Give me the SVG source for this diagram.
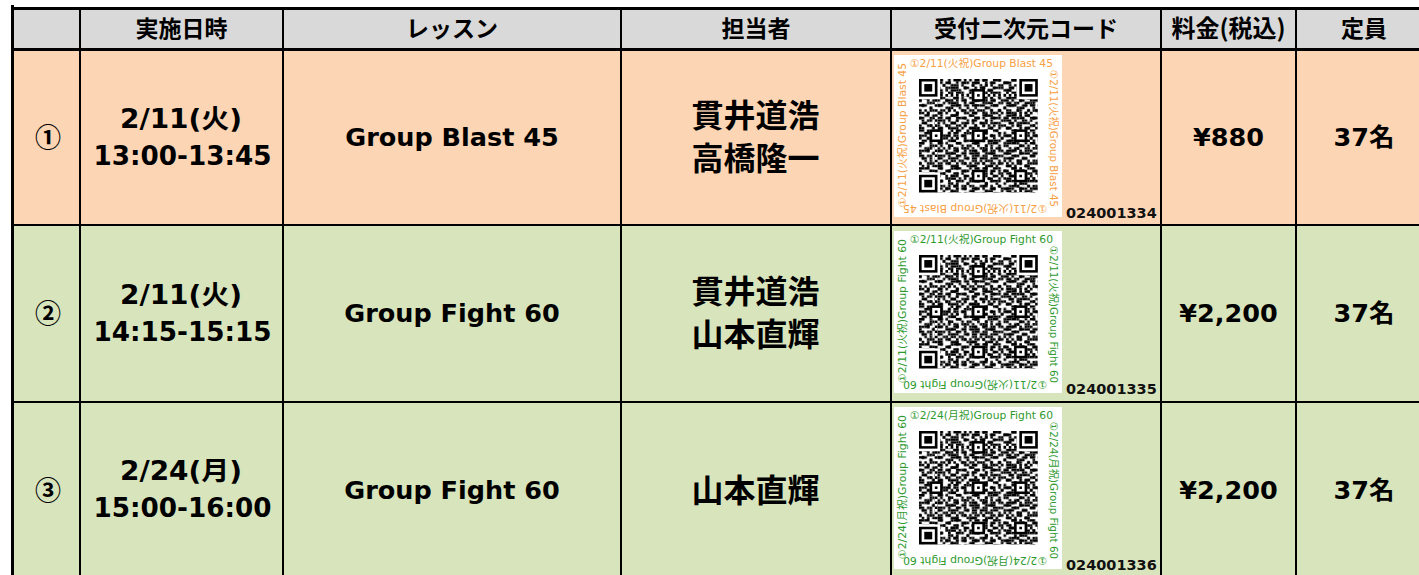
<svg xmlns="http://www.w3.org/2000/svg" xmlns:xlink="http://www.w3.org/1999/xlink" width="1419" height="575" viewBox="0 0 1419 575">
<style>
.hd{font-family:"Noto Sans CJK JP",sans-serif;font-weight:bold;font-size:23px;fill:#000;text-anchor:middle}
.lt{font-family:"DejaVu Sans","Noto Sans CJK JP",sans-serif;font-weight:bold;font-size:25.5px;fill:#000;text-anchor:middle}
.tm{font-size:26.5px}
.jp{font-family:"Noto Sans CJK JP",sans-serif;font-weight:bold;font-size:32px;fill:#000;text-anchor:middle}
.cn{font-family:"Noto Sans CJK JP",sans-serif;font-weight:bold;font-size:26px;fill:#000;text-anchor:middle}
.qo{font-family:"DejaVu Sans","Noto Sans CJK JP",sans-serif;font-size:10.5px;fill:#f7a043}
.qg{font-family:"DejaVu Sans","Noto Sans CJK JP",sans-serif;font-size:10.5px;fill:#2f9a2f}
.num{font-family:"DejaVu Sans",sans-serif;font-weight:bold;font-size:14.5px;fill:#111}
.gl{stroke:#000;fill:none}
</style>
<defs>
<pattern id="pa" patternUnits="userSpaceOnUse" width="7" height="5"><path d="M0 0h2v1h-2z M4 1h1v1h-1z M2 2h1v1h-1z M6 2h1v1h-1z M0 3h1v1h-1z M3 3h1v1h-1z M5 4h2v1h-2z" fill="#000"/></pattern>
<pattern id="pb" patternUnits="userSpaceOnUse" width="11" height="7"><path d="M2 0h2v1h-2z M8 0h1v1h-1z M0 1h1v1h-1z M5 1h2v1h-2z M10 1h1v1h-1z M3 2h1v1h-1z M9 2h1v1h-1z M1 3h2v1h-2z M6 3h2v1h-2z M4 4h1v1h-1z M10 4h1v1h-1z M0 5h1v1h-1z M5 5h1v1h-1z M8 5h1v1h-1z M3 6h1v1h-1z M7 6h1v1h-1z" fill="#000"/></pattern>
<pattern id="pc" patternUnits="userSpaceOnUse" width="13" height="3"><path d="M4 0h1v1h-1z M11 0h1v1h-1z M1 1h1v1h-1z M7 1h2v1h-2z M12 2h1v1h-1z" fill="#000"/></pattern>
<g id="fnd"><rect x="0" y="0" width="7" height="7" fill="#000"/><rect x="1" y="1" width="5" height="5" fill="#fff"/><rect x="2" y="2" width="3" height="3" fill="#000"/></g>
<g id="aln"><rect x="-2" y="-2" width="5" height="5" fill="#000"/><rect x="-1" y="-1" width="3" height="3" fill="#fff"/><rect x="0" y="0" width="1" height="1" fill="#000"/></g>
<g id="qr">
<rect x="0" y="0" width="45" height="45" fill="#fff"/>
<rect x="0" y="0" width="45" height="45" fill="url(#pa)"/>
<rect x="0" y="0" width="45" height="45" fill="url(#pb)"/>
<rect x="0" y="0" width="45" height="45" fill="url(#pc)"/>
<rect x="0" y="0" width="8" height="8" fill="#fff"/>
<rect x="37" y="0" width="8" height="8" fill="#fff"/>
<rect x="0" y="37" width="8" height="8" fill="#fff"/>
<use xlink:href="#fnd" x="0" y="0"/>
<use xlink:href="#fnd" x="38" y="0"/>
<use xlink:href="#fnd" x="0" y="38"/>
<rect x="8" y="6" width="29" height="1" fill="#fff"/>
<rect x="6" y="8" width="1" height="29" fill="#fff"/>
<line x1="8" y1="6.5" x2="37" y2="6.5" stroke="#000" stroke-width="1" stroke-dasharray="1 1"/>
<line x1="6.5" y1="8" x2="6.5" y2="37" stroke="#000" stroke-width="1" stroke-dasharray="1 1"/>
<use xlink:href="#aln" x="6" y="22"/>
<use xlink:href="#aln" x="22" y="6"/>
<use xlink:href="#aln" x="22" y="22"/>
<use xlink:href="#aln" x="22" y="38"/>
<use xlink:href="#aln" x="38" y="22"/>
<use xlink:href="#aln" x="38" y="38"/>
</g>
</defs>

<rect x="0" y="0" width="1419" height="575" fill="#fff"/>

<g id="header">
<rect x="12" y="8" width="1407" height="41" fill="#d9d9d9"/>
<text class="hd" x="181.5" y="37">実施日時</text>
<text class="hd" x="452" y="37">レッスン</text>
<text class="hd" x="756" y="37">担当者</text>
<text class="hd" x="1026" y="37">受付二次元コード</text>
<text class="hd" x="1228.5" y="37" style="font-size:24px">料金(税込)</text>
<text class="hd" x="1364" y="37">定員</text>
</g>

<g id="row1">
<rect x="12" y="49" width="1407" height="176" fill="#fcd5b4"/>
<text class="cn" x="48" y="147">①</text>
<text class="lt tm" x="181" y="128" textLength="122" lengthAdjust="spacingAndGlyphs">2/11(火)</text>
<text class="lt tm" x="182.5" y="165" textLength="178" lengthAdjust="spacingAndGlyphs">13:00-13:45</text>
<text class="lt" x="452" y="146">Group Blast 45</text>
<text class="jp" x="755.5" y="127">貫井道浩</text>
<text class="jp" x="755.5" y="170">高橋隆一</text>
<g id="qr1">
<rect x="894" y="55" width="168" height="162" fill="#fff"/>
<use xlink:href="#qr" transform="translate(919,79) scale(2.64,2.52)"/>
<text class="qo" x="910" y="67" textLength="143" lengthAdjust="spacingAndGlyphs">①2/11(火祝)Group Blast 45</text>
<text class="qo" transform="translate(1050,70) rotate(90)" textLength="137" lengthAdjust="spacingAndGlyphs">①2/11(火祝)Group Blast 45</text>
<text class="qo" transform="translate(1047,205) rotate(180)" textLength="144" lengthAdjust="spacingAndGlyphs">①2/11(火祝)Group Blast 45</text>
<text class="qo" transform="translate(906,207) rotate(-90)" textLength="144" lengthAdjust="spacingAndGlyphs">①2/11(火祝)Group Blast 45</text>
<text class="num" x="1066" y="218">024001334</text>
</g>
<text class="lt" x="1228.5" y="146">¥880</text>
<text class="lt" x="1364" y="146">37名</text>
</g>

<g id="row2">
<rect x="12" y="225" width="1407" height="177" fill="#d8e4bc"/>
<text class="cn" x="48" y="323">②</text>
<text class="lt tm" x="181" y="304" textLength="122" lengthAdjust="spacingAndGlyphs">2/11(火)</text>
<text class="lt tm" x="182.5" y="341" textLength="178" lengthAdjust="spacingAndGlyphs">14:15-15:15</text>
<text class="lt" x="452" y="322">Group Fight 60</text>
<text class="jp" x="755.5" y="303">貫井道浩</text>
<text class="jp" x="755.5" y="346">山本直輝</text>
<g id="qr2">
<rect x="894" y="231" width="168" height="162" fill="#fff"/>
<use xlink:href="#qr" transform="translate(919,255) scale(2.64,2.52)"/>
<text class="qg" x="910" y="243" textLength="143" lengthAdjust="spacingAndGlyphs">①2/11(火祝)Group Fight 60</text>
<text class="qg" transform="translate(1050,246) rotate(90)" textLength="137" lengthAdjust="spacingAndGlyphs">①2/11(火祝)Group Fight 60</text>
<text class="qg" transform="translate(1047,381) rotate(180)" textLength="144" lengthAdjust="spacingAndGlyphs">①2/11(火祝)Group Fight 60</text>
<text class="qg" transform="translate(906,383) rotate(-90)" textLength="144" lengthAdjust="spacingAndGlyphs">①2/11(火祝)Group Fight 60</text>
<text class="num" x="1066" y="394">024001335</text>
</g>
<text class="lt" x="1228.5" y="322">¥2,200</text>
<text class="lt" x="1364" y="322">37名</text>
</g>

<g id="row3">
<rect x="12" y="402" width="1407" height="173" fill="#d8e4bc"/>
<text class="cn" x="48" y="500">③</text>
<text class="lt tm" x="181" y="480" textLength="122" lengthAdjust="spacingAndGlyphs">2/24(月)</text>
<text class="lt tm" x="182.5" y="517" textLength="178" lengthAdjust="spacingAndGlyphs">15:00-16:00</text>
<text class="lt" x="452" y="499">Group Fight 60</text>
<text class="jp" x="755.5" y="502">山本直輝</text>
<g id="qr3">
<rect x="894" y="407" width="168" height="162" fill="#fff"/>
<use xlink:href="#qr" transform="translate(919,431) scale(2.64,2.52)"/>
<text class="qg" x="910" y="419" textLength="143" lengthAdjust="spacingAndGlyphs">①2/24(月祝)Group Fight 60</text>
<text class="qg" transform="translate(1050,422) rotate(90)" textLength="137" lengthAdjust="spacingAndGlyphs">①2/24(月祝)Group Fight 60</text>
<text class="qg" transform="translate(1047,557) rotate(180)" textLength="144" lengthAdjust="spacingAndGlyphs">①2/24(月祝)Group Fight 60</text>
<text class="qg" transform="translate(906,559) rotate(-90)" textLength="144" lengthAdjust="spacingAndGlyphs">①2/24(月祝)Group Fight 60</text>
<text class="num" x="1066" y="570">024001336</text>
</g>
<text class="lt" x="1228.5" y="499">¥2,200</text>
<text class="lt" x="1364" y="499">37名</text>
</g>

<g id="connectors" class="gl">
<line x1="11" y1="8.5" x2="1419" y2="8.5" stroke-width="3"/>
<line x1="11" y1="49.5" x2="1419" y2="49.5" stroke-width="3"/>
<line x1="11" y1="225" x2="1419" y2="225" stroke-width="2"/>
<line x1="11" y1="402" x2="1419" y2="402" stroke-width="2"/>
<line x1="12.5" y1="5" x2="12.5" y2="575" stroke-width="3"/>
<line x1="80" y1="7" x2="80" y2="575" stroke-width="2"/>
<line x1="283" y1="7" x2="283" y2="575" stroke-width="2"/>
<line x1="621" y1="7" x2="621" y2="575" stroke-width="2"/>
<line x1="891" y1="7" x2="891" y2="575" stroke-width="2"/>
<line x1="1161" y1="7" x2="1161" y2="575" stroke-width="2"/>
<line x1="1296" y1="7" x2="1296" y2="575" stroke-width="2"/>
</g>
</svg>
